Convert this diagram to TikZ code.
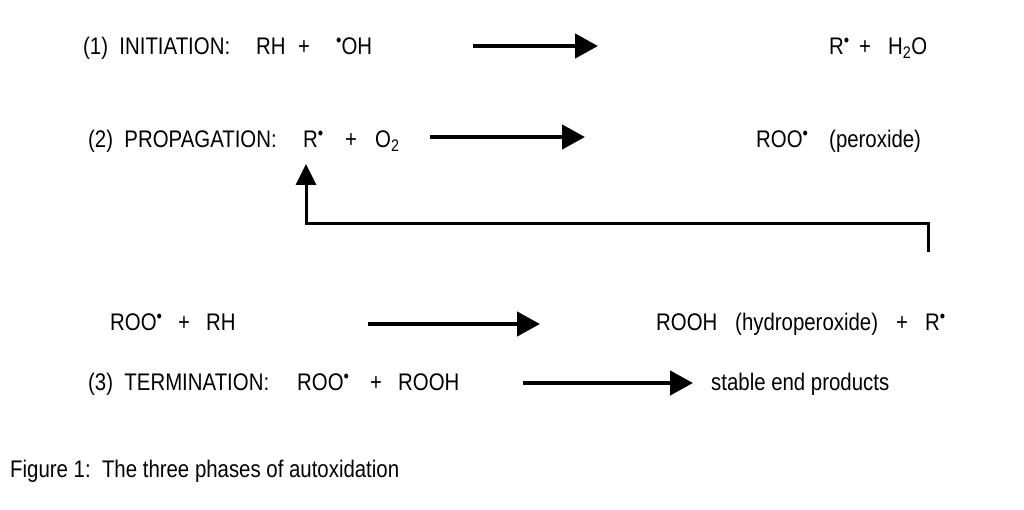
\documentclass[tikz,border=0pt]{standalone}
\usepackage{fontspec}
\setmainfont{Liberation Sans}[FakeStretch=0.85]
\usetikzlibrary{arrows.meta}
\newcommand{\rad}{\raisebox{8pt}{\fontsize{18}{18}\selectfont •}}
\begin{document}
\begin{tikzpicture}[x=1pt,y=-1pt,
  txt/.style={inner sep=0pt, anchor=base west, font=\fontsize{24}{28}\selectfont},
  arr/.style={line width=4.5pt, -{Triangle[length=23pt,width=24pt]}},
  fb/.style={line width=3pt}]
\useasboundingbox[fill=white] (0,0) rectangle (1024,510);
% Row 1
\node[txt] (i1) at (83,55) {(1)\ \ INITIATION:};
\node[txt] (rh1) at (256,55) {RH};
\node[txt] (p1) at (298,55) {+};
\node[txt] (oh) at (336,55) {\rad OH};
\node[txt] (r1) at (829,55) {R\rad};
\node[txt] (p1b) at (859,55) {+};
\node[txt] (h2o) at (888,55) {H\textsubscript{2}O};
\coordinate (a1s) at (473,46);
\coordinate (a1e) at (598,46);
\draw[arr] (a1s) -- (a1e);
% Row 2
\node[txt] (i2) at (88,148) {(2)\ \ PROPAGATION:};
\node[txt] (r2) at (303,148) {R\rad};
\node[txt] (p2) at (345,148) {+};
\node[txt] (o2) at (375,148) {O\textsubscript{2}};
\node[txt] (prod2) at (756,148) {ROO\rad};
\node[txt] (perox) at (829,148) {(peroxide)};
\coordinate (a2s) at (430,137);
\coordinate (a2e) at (585,137);
\draw[arr] (a2s) -- (a2e);
% feedback
\coordinate (fbs) at (928,252);
\coordinate (fbc) at (928,224);
\coordinate (fbe) at (306,164);
\draw[fb,-{Triangle[length=21pt,width=20pt]}] (fbs) -- (fbc) -- (fbc -| fbe) -- (fbe);
% Row 3
\node[txt] (r3a) at (110,330) {ROO\rad};
\node[txt] (p3) at (178,330) {+};
\node[txt] (rh3) at (206,330) {RH};
\node[txt] (rooh) at (656,330) {ROOH};
\node[txt] (hyd) at (735,330) {(hydroperoxide)};
\node[txt] (p3b) at (896,330) {+};
\node[txt] (r3b) at (925,330) {R\rad};
\coordinate (a3s) at (368,324);
\coordinate (a3e) at (540,324);
\draw[arr] (a3s) -- (a3e);
% Row 4
\node[txt] (i3) at (88,390) {(3)\ \ TERMINATION:};
\node[txt] (r4a) at (297,390) {ROO\rad};
\node[txt] (p4) at (370,390) {+};
\node[txt] (rooh4) at (398,390) {ROOH};
\node[txt] (stable) at (711,390) {stable end products};
\coordinate (a4s) at (523,383);
\coordinate (a4e) at (693,383);
\draw[arr] (a4s) -- (a4e);
% caption
\node[txt] (cap) at (10,477) {Figure 1:\ \ The three phases of autoxidation};
\end{tikzpicture}
\end{document}
